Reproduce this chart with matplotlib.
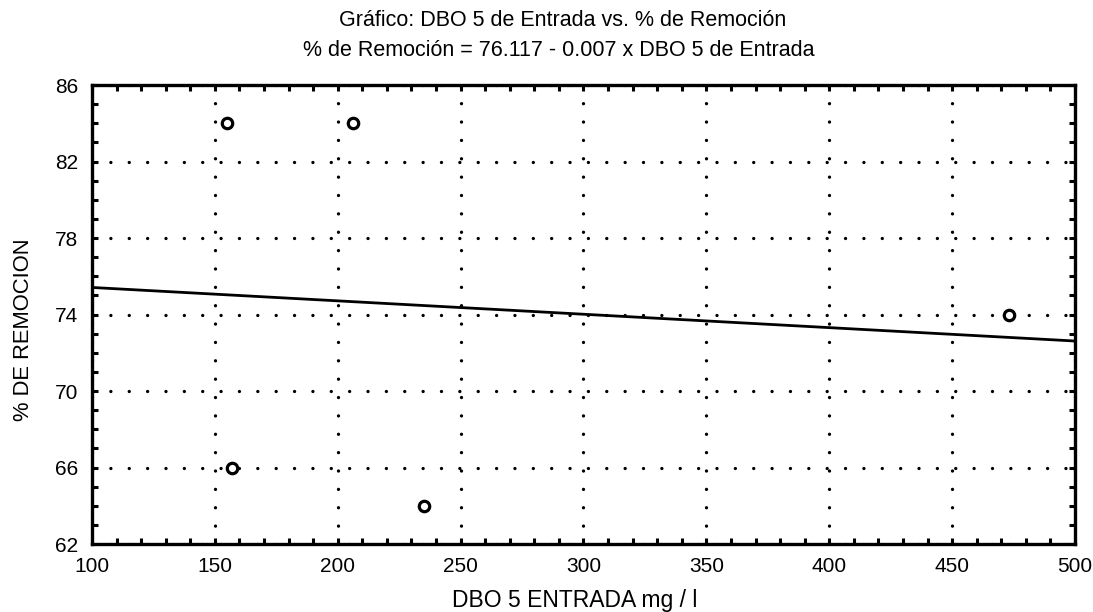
import matplotlib.pyplot as plt
from matplotlib.ticker import MultipleLocator, FixedLocator

plt.rcParams['font.family'] = ['Liberation Sans', 'DejaVu Sans']

# data
dbo_entrada = [155, 206, 157, 235, 473]
remocion = [84, 84, 66, 64, 74]

intercept = 76.117
slope = -0.007
line_x = [100, 500]

y_ticks = [62, 66, 70, 74, 78, 82, 86]

fig = plt.figure(figsize=(10.93, 6.12), dpi=100)
ax = fig.add_axes([0.0842, 0.111, 0.8993, 0.750])

line_y = [intercept + slope * x for x in line_x]
ax.plot(line_x, line_y, color="black", lw=2.0, zorder=3)
ax.plot(dbo_entrada, remocion, linestyle="none", marker="o", markersize=7.5,
        markerfacecolor="white", markeredgecolor="black", markeredgewidth=2.3, zorder=4)

ax.set_xlim(100, 500)
ax.set_ylim(62, 86)
ax.xaxis.set_major_locator(MultipleLocator(50))
ax.xaxis.set_minor_locator(MultipleLocator(10))
ax.yaxis.set_major_locator(FixedLocator(y_ticks))
ax.yaxis.set_minor_locator(MultipleLocator(1))

ax.grid(True, which="major", color="black", linestyle=(0, (0.01, 5.5)),
        lw=2.4, dash_capstyle="round")

for s in ax.spines.values():
    s.set_linewidth(2.4)

ax.tick_params(which="both", direction="in", top=True, right=True,
               length=4, width=2.2, labelsize=15)
ax.tick_params(axis="x", pad=9)
ax.tick_params(axis="y", pad=10)

ax.set_xlabel("DBO 5 ENTRADA mg / l", fontsize=16.5)
ax.set_ylabel("% DE REMOCION", fontsize=15.8)
ax.xaxis.set_label_coords(0.491, -0.098)
ax.yaxis.set_label_coords(-0.059, 0.466)

fig.text(0.515, 0.967, "Gráfico: DBO 5 de Entrada vs. % de Remoción",
         ha="center", va="center", fontsize=15.5)
fig.text(0.511, 0.918, "% de Remoción = 76.117 - 0.007 x DBO 5 de Entrada",
         ha="center", va="center", fontsize=15.5)

fig.savefig("out.png", dpi=100)
